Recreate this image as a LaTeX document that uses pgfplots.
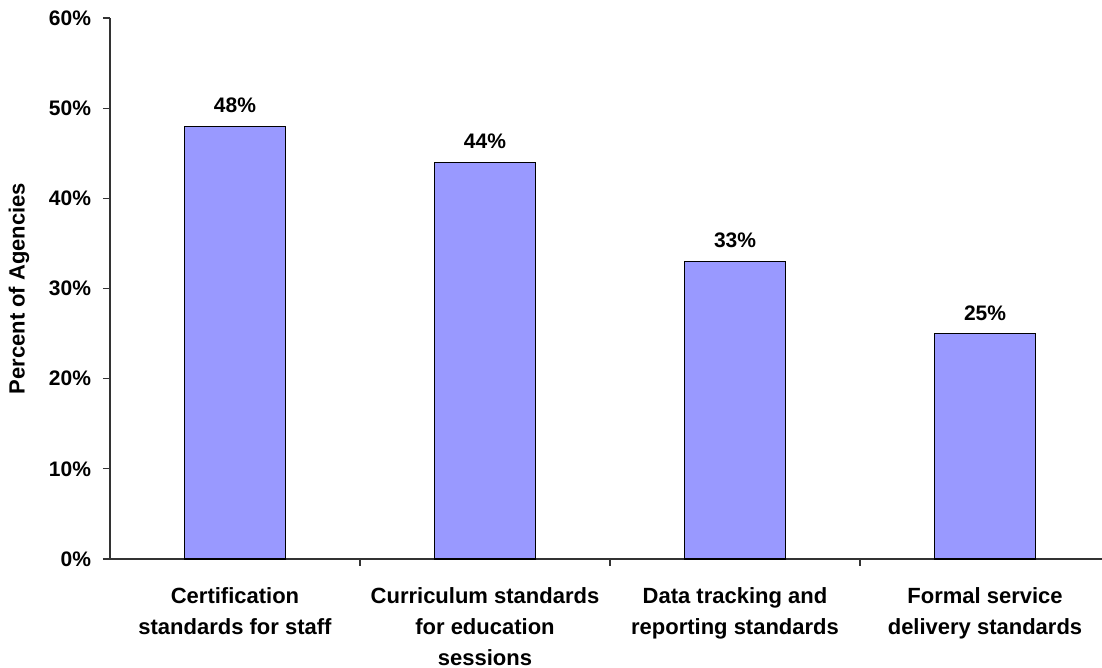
\documentclass[border=0pt]{standalone}
\usepackage{pgfplots}
\pgfplotsset{compat=1.18}
\usepackage{fontspec}
\setmainfont{Liberation Sans}
\begin{document}
\begin{tikzpicture}
\begin{axis}[
  scale only axis,
  width=496pt, height=270.5pt,
  xmin=-0.5, xmax=3.468,
  ymin=0, ymax=60,
  axis lines=left,
  axis line style={-, black!80, line width=0.6pt},
  ytick={0,10,20,30,40,50,60},
  yticklabels={0\%,10\%,20\%,30\%,40\%,50\%,60\%},
  yticklabel style={font=\bfseries\fontsize{10.5}{11}\selectfont, xshift=-2.5pt},
  ytick style={black!80, line width=0.6pt},
  tick align=outside,
  major tick length=3.5pt,
  xtick={0,1,2,3},
  xticklabels={{Certification\\standards for staff}, {Curriculum standards\\for education\\sessions}, {Data tracking and\\reporting standards}, {Formal service\\delivery standards}},
  x tick style={draw=none},
  xticklabel style={font=\bfseries\fontsize{11}{15.5}\selectfont, align=center, anchor=north, yshift=-7pt},
  extra x ticks={0.5,1.5,2.5},
  extra x tick labels={},
  extra x tick style={x tick style={draw=black!80, line width=0.6pt}},
  ylabel={Percent of Agencies},
  ylabel style={font=\bfseries\fontsize{11}{12}\selectfont, yshift=3pt},
  /pgf/number format/assume math mode=true,
  nodes near coords={\pgfmathprintnumber{\pgfplotspointmeta}\%},
  nodes near coords style={font=\bfseries\fontsize{10.5}{11}\selectfont, yshift=3pt},
  clip=false,
]
\addplot[ybar, bar width=50.5pt, fill={rgb,255:red,153;green,153;blue,255}, draw=black, line width=0.6pt]
  coordinates {(0,48) (1,44) (2,33) (3,25)};
\end{axis}
\pgfresetboundingbox
\useasboundingbox (-55pt,-54.5pt) rectangle (496pt,279.5pt);
\end{tikzpicture}
\end{document}
